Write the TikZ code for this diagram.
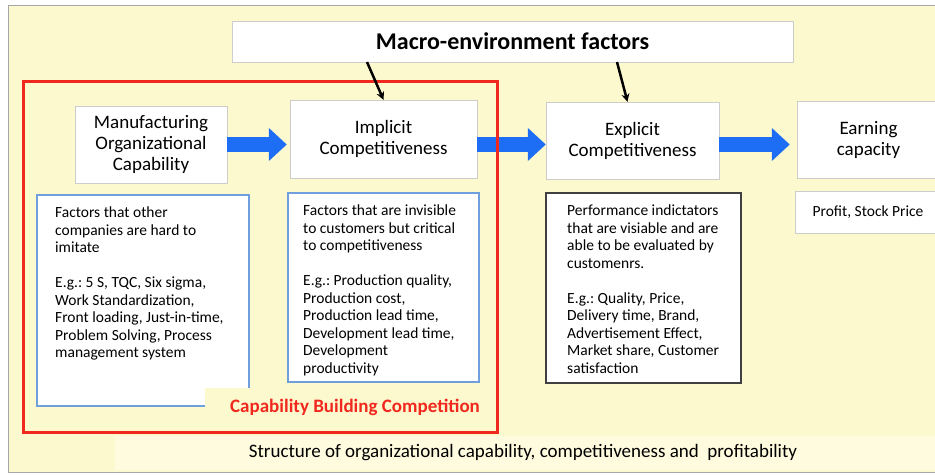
\documentclass[tikz,border=0pt]{standalone}
\usepackage{fontspec}
\setmainfont{Carlito}
\usepackage{xcolor}
\usetikzlibrary{
    arrows.meta,
    calc,
    positioning
}
\frenchspacing
\definecolor{panelyellow}{HTML}{FDF9CE}
\definecolor{captionyellow}{HTML}{FEFBDE}
\definecolor{boxgray}{HTML}{CDCDCD}
\definecolor{descblue}{HTML}{6F9FDC}
\definecolor{arrowblue}{HTML}{1E6EF5}
\definecolor{capred}{HTML}{F0281E}
\tikzset{
    titlebox/.style={draw=boxgray, fill=white, align=center, font=\fontsize{19}{21}\selectfont},
    descframe/.style={draw=descblue, line width=1.5pt, fill=white},
    desctext/.style={anchor=north west, align=left, inner sep=0pt, font=\fontsize{15.5}{17.5}\selectfont},
    bluearrow/.style={draw=arrowblue, line width=15pt, -{Triangle[length=18pt,width=32pt]}},
    envarrow/.style={line width=2.5pt, -{Stealth[length=8pt,width=8pt]}}
}

\begin{document}
\begin{tikzpicture}[x=1pt, y=-1pt]
    \useasboundingbox (0,0) rectangle (935,475);
    % panel
    \draw[gray!70, fill=panelyellow] (8,5) rectangle (945,472);
    \fill[captionyellow] (115,436) rectangle (935,470);

    % top row
    \node[draw=boxgray, fill=white, minimum width=561, minimum height=41, font=\bfseries\fontsize{24}{28}\selectfont] (macro) at (512.5,41.5) {Macro-environment factors};
    \node[titlebox, minimum width=152, minimum height=77] (manuf) at (151,144.5) {Manufacturing\\Organizational\\Capability};
    \node[titlebox, minimum width=187, minimum height=78] (impl) at (383.5,139) {Implicit\\Competitiveness};
    \node[titlebox, minimum width=173, minimum height=77] (expl) at (632.5,140.5) {Explicit\\Competitiveness};
    \node[titlebox, minimum width=143, minimum height=77] (earn) at (868.5,139.5) {Earning\\capacity};

    % lower boxes
    \node[descframe, minimum width=212, minimum height=211] (manufbox) at (143,300.5) {};
    \node[desctext] (manuftext) at (55,207) {Factors that other\\companies are hard to\\imitate\\[17.5pt]E.g.: 5 S, TQC, Six sigma,\\Work Standardization,\\Front loading, Just-in-time,\\Problem Solving, Process\\management system};
    \node[descframe, minimum width=191, minimum height=189] (implbox) at (383.5,287.5) {};
    \node[desctext] (impltext) at (303,205) {Factors that are invisible\\to customers but critical\\to competitiveness\\[17.5pt]E.g.: Production quality,\\Production cost,\\Production lead time,\\Development lead time,\\Development\\productivity};
    \node[descframe, draw=black!75, minimum width=195, minimum height=190] (explbox) at (643.5,288) {};
    \node[desctext] (expltext) at (567,205) {Performance indictators\\that are visiable and are\\able to be evaluated by\\customenrs.\\[17.5pt]E.g.: Quality, Price,\\Delivery time, Brand,\\Advertisement Effect,\\Market share, Customer\\satisfaction};
    \node[draw=boxgray, fill=white, minimum width=146, minimum height=42, font=\fontsize{15.5}{18}\selectfont] (earnbox) at (868,212) {Profit, Stock Price};

    \node[fill=panelyellow, text=capred, minimum width=300, minimum height=38, font=\bfseries\fontsize{19}{22}\selectfont] (cbc) at (355,407) {Capability Building Competition};

    % arrows
    \draw[bluearrow, shorten >=3pt] (manuf.east) -- (impl.west |- manuf.east);
    \draw[bluearrow] (impl.east |- manuf.east) -- (expl.west |- manuf.east);
    \draw[bluearrow, shorten >=7pt] (expl.east |- manuf.east) -- (earn.west |- manuf.east);

    \draw[capred, line width=3pt] (23,81) rectangle (497,432);

    \coordinate (m1) at (367,62);
    \coordinate (m2) at (617,62);
    \draw[envarrow] (m1) -- (impl.north);
    \draw[envarrow] (m2) -- ($(expl.north)+(-5,0)$);

    \node[font=\fontsize{19}{22}\selectfont] (caption) at (523,453) {Structure of organizational capability, competitiveness and~ profitability};
\end{tikzpicture}
\end{document}
